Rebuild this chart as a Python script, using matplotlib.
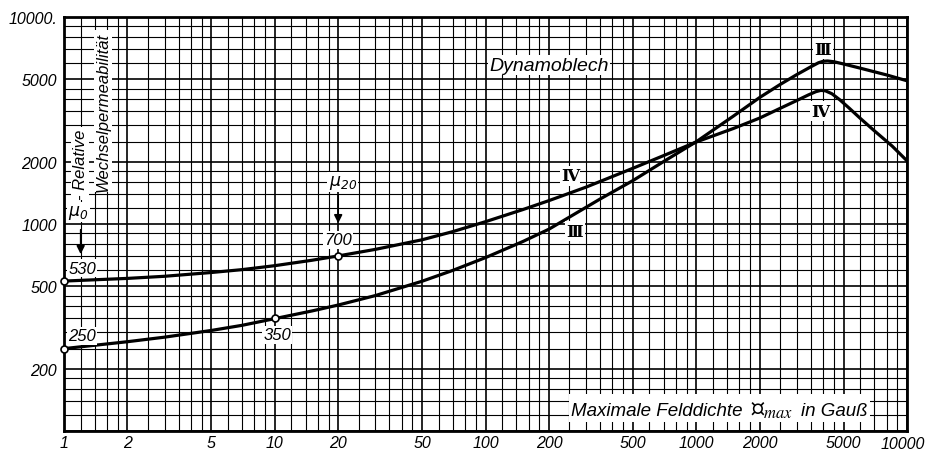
import matplotlib
matplotlib.use('Agg')
import matplotlib.pyplot as plt
from matplotlib.offsetbox import TextArea, HPacker, AnchoredOffsetbox
import numpy as np

# Dynamoblech: relative Wechselpermeabilitaet ueber B_max (Gauss)
b_IV = [1, 2, 3, 5, 7, 10, 15, 20, 30, 50, 70, 100, 150, 200, 300, 500, 700,
        1000, 1500, 2000, 2500, 3000, 3400, 3700, 3900, 4100, 4400, 4800,
        5300, 6000, 7000, 8500, 10000]
mu_IV = [530, 546, 559, 583, 602, 629, 668, 701, 754, 839, 919, 1026, 1173,
         1297, 1507, 1858, 2140, 2490, 2893, 3250, 3620, 3950, 4200, 4360,
         4420, 4400, 4260, 3980, 3640, 3240, 2820, 2380, 2020]

b_III = [1, 2, 3, 5, 7, 10, 15, 20, 30, 50, 70, 100, 150, 200, 350, 500, 700,
         1000, 1500, 2000, 2500, 3000, 3500, 3800, 4000, 4200, 4500, 5000,
         6000, 8000, 10000]
mu_III = [250, 270, 284, 306, 324, 349, 380, 406, 451, 529, 597, 688, 822,
          944, 1321, 1620, 2003, 2497, 3320, 4085, 4720, 5270, 5750, 6010,
          6110, 6130, 6080, 5930, 5660, 5250, 4920]

# markierte Punkte
mark_b_IV = [1, 20]
mark_mu_IV = [530, 700]
mark_b_III = [1, 10]
mark_mu_III = [250, 350]

x_major = [1, 2, 5, 10, 20, 50, 100, 200, 500, 1000, 2000, 5000, 10000]
x_labels = ['1', '2', '5', '10', '20', '50', '100', '200', '500', '1000',
            '2000', '5000', '10000']
y_major = [100, 200, 500, 1000, 2000, 5000, 10000]
y_labels = ['', '200', '500', '1000', '2000', '5000', '10000.']
sub_steps = [1.2, 1.4, 1.6, 1.8, 2.5, 3, 3.5, 4, 4.5, 6, 7, 8, 9]

plt.rcParams['font.family'] = ['Liberation Sans', 'DejaVu Sans']
plt.rcParams['font.style'] = 'italic'
plt.rcParams['mathtext.fontset'] = 'dejavusans'

fig = plt.figure(figsize=(9.27, 4.52), dpi=100)
ax = fig.add_axes([64/927, 1 - 432/452, 843/927, 414/452])
ax.set_xscale('log')
ax.set_yscale('log')
ax.set_xlim(1, 10000)
ax.set_ylim(100, 10000)

x_minor = [d * s for d in [1, 10, 100, 1000] for s in sub_steps]
y_minor = [d * s for d in [100, 1000] for s in sub_steps]
# letzte Beschriftung (10000) wird separat gesetzt, damit sie nicht abgeschnitten wird
ax.set_xticks(x_major, x_labels[:-1] + [''])
ax.set_xticks(x_minor, minor=True)
ax.set_yticks(y_major, y_labels)
ax.set_yticks(y_minor, minor=True)
ax.xaxis.set_minor_formatter(matplotlib.ticker.NullFormatter())
ax.yaxis.set_minor_formatter(matplotlib.ticker.NullFormatter())
ax.tick_params(which='both', length=0)
ax.tick_params(axis='x', pad=3, labelsize=11.5)
ax.tick_params(axis='y', pad=5, labelsize=11.5)
for lab in ax.get_xticklabels() + ax.get_yticklabels():
    lab.set_style('italic')
ax.text(0.9945, -0.012, x_labels[-1], transform=ax.transAxes, ha='center', va='top',
        fontsize=11.5, clip_on=False)

ax.grid(which='major', color='black', lw=1.2)
ax.grid(which='minor', color='black', lw=0.8)
ax.set_axisbelow(True)
for sp in ax.spines.values():
    sp.set_linewidth(2.0)

ax.plot(b_IV, mu_IV, color='black', lw=2.3, zorder=3)
ax.plot(b_III, mu_III, color='black', lw=2.3, zorder=3)
ax.plot(mark_b_IV, mark_mu_IV, 'o', ms=5, mfc='white', mec='black', mew=1.2,
        zorder=4, clip_on=False)
ax.plot(mark_b_III, mark_mu_III, 'o', ms=5, mfc='white', mec='black', mew=1.2,
        zorder=4, clip_on=False)

box = dict(facecolor='white', edgecolor='none', pad=1.0)
fs = 12

# Wertangaben an den markierten Punkten
ax.text(1.22, 612, str(mark_mu_IV[0]), ha='center', va='center', fontsize=fs, bbox=box, zorder=5)
ax.text(1.22, 288, str(mark_mu_III[0]), ha='center', va='center', fontsize=fs, bbox=box, zorder=5)
ax.text(10.25, 291, str(mark_mu_III[1]), ha='center', va='center', fontsize=fs, bbox=box, zorder=5)
ax.text(20, 837, str(mark_mu_IV[1]), ha='center', va='center', fontsize=fs, bbox=box, zorder=5)

ax.text(1.17, 1143, r'$\mu_0$', ha='center', va='center', fontsize=12.5, bbox=box, zorder=5)
ax.text(21, 1597, r'$\mu_{20}$', ha='center', va='center', fontsize=12.5, bbox=box, zorder=5)
ax.annotate('', xy=(1.2, 693), xytext=(1.2, 968),
            arrowprops=dict(arrowstyle='-|>', color='black', lw=1.2, mutation_scale=12), zorder=5)
ax.annotate('', xy=(20, 977), xytext=(20, 1413),
            arrowprops=dict(arrowstyle='-|>', color='black', lw=1.2, mutation_scale=12), zorder=5)

# Kurvenbezeichnungen
roman = dict(ha='center', va='center', fontsize=12, fontweight='bold', style='normal',
             family=['DejaVu Serif', 'DejaVu Sans'], bbox=box, zorder=5)
ax.text(252, 1706, '\u2163', **roman)
ax.text(266, 924, '\u2162', **roman)
ax.text(3990, 7000, '\u2162', **roman)
ax.text(3865, 3514, '\u2163', **roman)

ax.text(200, 5860, 'Dynamoblech', ha='center', va='center', fontsize=14, bbox=box, zorder=5)

# Achsentitel x: Fraktur-B groesser setzen
title_parts = [
    TextArea('Maximale Felddichte', textprops=dict(fontsize=13.5, style='italic')),
    TextArea(r'$\mathfrak{B}_{\mathit{max}}$',
             textprops=dict(fontsize=17, math_fontfamily='stix')),
    TextArea('in Gauß', textprops=dict(fontsize=13.5, style='italic')),
]
title_box = HPacker(children=title_parts, align='baseline', pad=0, sep=6)
anch = AnchoredOffsetbox(loc='center right', child=title_box, pad=0.15, borderpad=0,
                         frameon=True, bbox_to_anchor=(0.956, 0.055),
                         bbox_transform=ax.transAxes)
anch.patch.set_edgecolor('none')
anch.patch.set_facecolor('white')
anch.patch.set_boxstyle('square', pad=0)
anch.set_zorder(5)
ax.add_artist(anch)

ax.text(0.019, 0.645, '- Relative', transform=ax.transAxes, rotation=90,
        ha='center', va='center', fontsize=12, bbox=box, zorder=5)
ax.text(0.046, 0.773, 'Wechselpermeabilität', transform=ax.transAxes, rotation=90,
        ha='center', va='center', fontsize=12, bbox=box, zorder=5)

fig.savefig('out.png', dpi=100)
